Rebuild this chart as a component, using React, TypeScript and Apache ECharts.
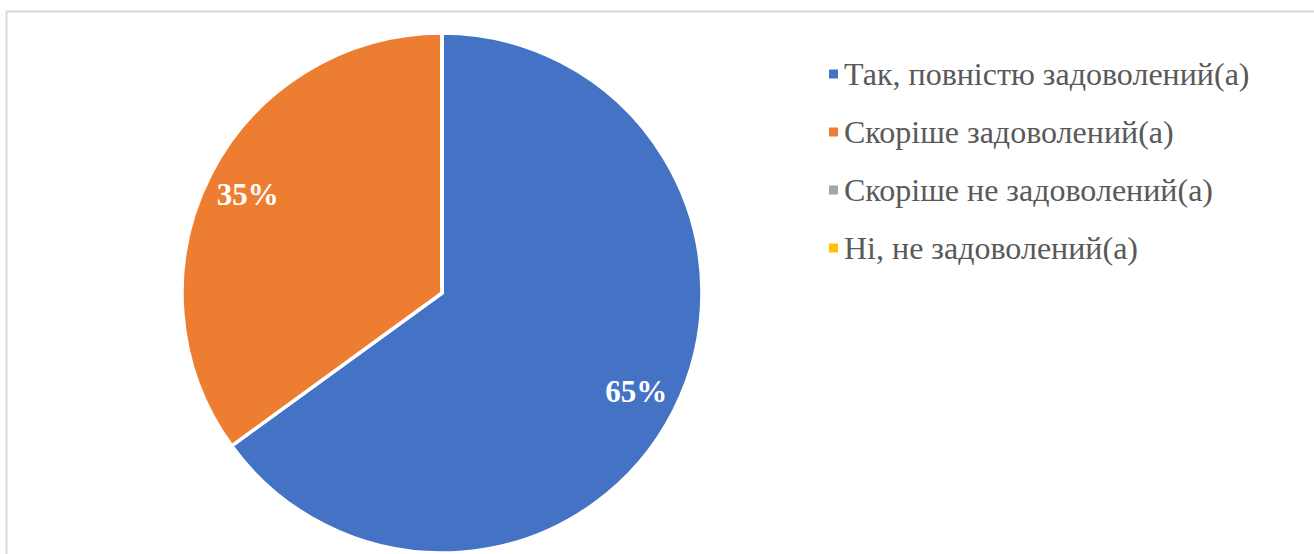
import React, { useEffect, useRef } from "react";
import * as echarts from "echarts";

const categories = [
  "Так, повністю задоволений(а)",
  "Скоріше задоволений(а)",
  "Скоріше не задоволений(а)",
  "Ні, не задоволений(а)",
];
const values = [65, 35, 0, 0];
const colors = ["#4472C4", "#ED7D31", "#A5A5A5", "#FFC000"];

export default function App() {
  const ref = useRef<HTMLDivElement>(null);
  useEffect(() => {
    document.body.style.margin = "0";
    const chart = echarts.init(ref.current!, null, { renderer: "svg" });
    const data = categories.map((name, i) => ({ name, value: values[i] }));
    chart.setOption({
      animation: false,
      color: colors,
      graphic: [
        {
          type: "rect",
          shape: { x: 6.5, y: 11.5, width: 1330, height: 600 },
          style: { fill: "none", stroke: "#D9D9D9", lineWidth: 2 },
          silent: true,
        },
      ],
      legend: {
        orient: "vertical",
        left: 822,
        top: 53,
        icon: "rect",
        itemWidth: 11,
        itemHeight: 11,
        itemGap: 26,
        data: categories,
        textStyle: {
          fontFamily: "Liberation Serif",
          fontSize: 32,
          lineHeight: 32,
          color: "#595959",
          padding: [0, 0, 0, 0],
        },
      },
      series: [
        {
          type: "pie",
          center: [442, 293],
          radius: [0, 260],
          startAngle: 90,
          clockwise: true,
          stillShowZeroSum: true,
          data,
          itemStyle: { borderColor: "#FFFFFF", borderWidth: 3.5 },
          label: { show: false },
          labelLine: { show: false },
          emphasis: { disabled: true },
        },
        {
          type: "pie",
          center: [442, 293],
          radius: [170, 260],
          startAngle: 90,
          clockwise: true,
          silent: true,
          legendHoverLink: false,
          data,
          itemStyle: { color: "rgba(0,0,0,0)", borderWidth: 0 },
          label: {
            show: true,
            position: "inside",
            formatter: (p: any) => (p.value > 0 ? p.value + "%" : ""),
            color: "#FFFFFF",
            fontFamily: "Liberation Serif",
            fontWeight: "bold",
            fontSize: 31,
          },
          labelLine: { show: false },
          emphasis: { disabled: true },
        },
      ],
    });
    return () => chart.dispose();
  }, []);
  return <div ref={ref} style={{ width: 1314, height: 554 }} />;
}
